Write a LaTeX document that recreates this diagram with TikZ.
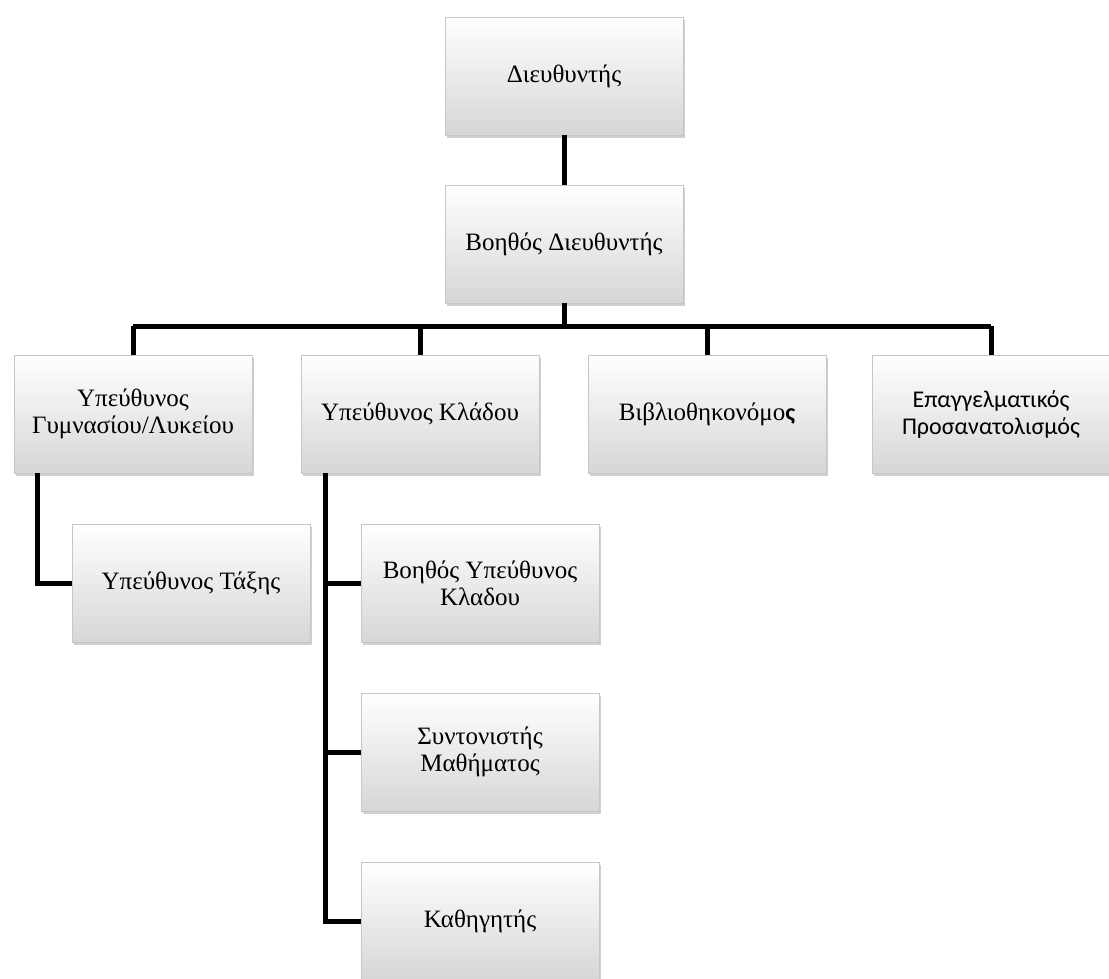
\documentclass[tikz,border=0pt]{standalone}
\usepackage{fontspec}
\setmainfont{Liberation Serif}
\newfontfamily\calib{Carlito}
\usetikzlibrary{shadows}
\tikzset{
  x=1pt,y=-1pt,
  orgbox/.style={rectangle, minimum width=238pt, minimum height=118pt,
    top color=white, bottom color=gray!32, draw=gray!45, line width=0.8pt,
    drop shadow={shadow xshift=1.5pt, shadow yshift=-3pt, fill=gray!60, opacity=0.6},
    align=center, font=\fontsize{25}{27}\selectfont, inner sep=0pt},
  conn/.style={line width=5pt, draw=black}
}
\begin{document}
\begin{tikzpicture}
\useasboundingbox (0,0) rectangle (1109,979);
\node[orgbox] (dir) at (564,76) {Διευθυντής};
\node[orgbox] (asst) at (564,244) {Βοηθός Διευθυντής};
\node[orgbox] (gym) at (133,414) {Υπεύθυνος\\Γυμνασίου/Λυκείου};
\node[orgbox] (klad) at (420,414) {Υπεύθυνος Κλάδου};
\node[orgbox] (lib) at (707,414) {Βιβλιοθηκονόμο{\calib\bfseries\fontsize{24}{27}\selectfont ς}};
\node[orgbox] (epag) at (991,414) {\calib\fontsize{24}{28}\selectfont Επαγγελματικός\\\calib\fontsize{24}{28}\selectfont Προσανατολισμός};
\node[orgbox] (taxi) at (191,583) {Υπεύθυνος Τάξης};
\node[orgbox] (voith) at (480,583) {Βοηθός Υπεύθυνος\\Κλαδου};
\node[orgbox] (synt) at (480,752) {Συντονιστής\\Μαθήματος};
\node[orgbox] (kath) at (480,921) {Καθηγητής};
\coordinate (bar) at (564,326);
\coordinate (gx) at (37,0);
\coordinate (kx) at (325,0);
\draw[conn] (dir.south) -- (asst.north);
\draw[conn] (asst.south) -- (bar);
\draw[conn] (gym.north |- bar) -- (epag.north |- bar);
\draw[conn] (gym.north |- bar) -- (gym.north);
\draw[conn] (klad.north |- bar) -- (klad.north);
\draw[conn] (lib.north |- bar) -- (lib.north);
\draw[conn] (epag.north |- bar) -- (epag.north);
\draw[conn] (gx |- gym.south) -- (gx |- taxi.west) -- (taxi.west);
\draw[conn] (kx |- klad.south) -- (kx |- kath.west) -- (kath.west);
\draw[conn] (kx |- voith.west) -- (voith.west);
\draw[conn] (kx |- synt.west) -- (synt.west);
\end{tikzpicture}
\end{document}
